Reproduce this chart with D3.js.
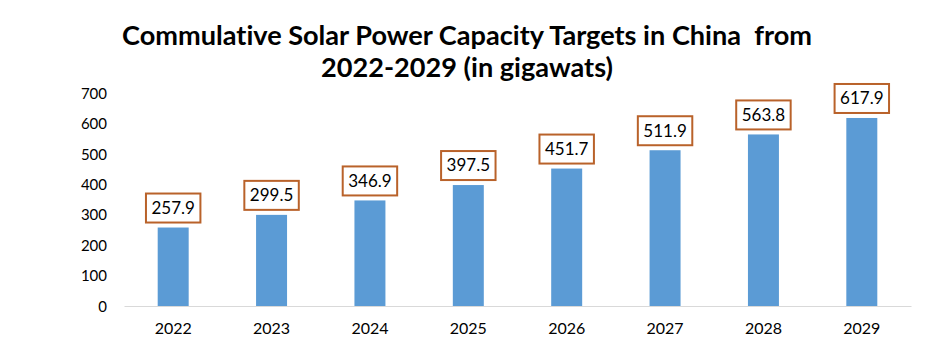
<!DOCTYPE html>
<html>
<head>
<meta charset="utf-8">
<script src="https://cdn.jsdelivr.net/npm/d3@7"></script>
<style>
  html, body { margin: 0; padding: 0; background: #fff; }
  svg { display: block; }
  text { font-variant-ligatures: none; font-feature-settings: "liga" 0; }
</style>
</head>
<body>
<svg id="chart" width="934" height="356"></svg>
<script>
const years = ["2022", "2023", "2024", "2025", "2026", "2027", "2028", "2029"];
const capacity = [257.9, 299.5, 346.9, 397.5, 451.7, 511.9, 563.8, 617.9];
const yTicks = [0, 100, 200, 300, 400, 500, 600, 700];
const titleLines = ["Commulative Solar Power Capacity Targets in China  from", "2022-2029 (in gigawats)"];

const svg = d3.select("#chart");
const W = 934, H = 356;
svg.append("rect").attr("width", W).attr("height", H).attr("fill", "#fff");

const x = d3.scaleBand().domain(years).range([124, 911]).paddingInner(0.685).paddingOuter(0.3425);
const y = d3.scaleLinear().domain([0, 700]).range([306, 93]);

// title
const title = svg.append("text")
  .attr("x", 467).attr("text-anchor", "middle")
  .style("font-family", "Lato, 'Open Sans', sans-serif")
  .style("font-weight", "bold").style("font-size", "26px")
  .style("white-space", "pre").attr("fill", "#000");
title.selectAll("tspan").data(titleLines).join("tspan")
  .attr("x", 467).attr("y", (d, i) => 45 + i * 32).text(d => d);
// fit first line to reference width
const t0 = title.select("tspan").node();
const w0 = t0.getComputedTextLength();
if (w0 > 0) title.style("font-size", (26 * 690 / w0).toFixed(2) + "px");

// y axis (labels only)
const yAxis = svg.append("g").attr("transform", "translate(107,0)")
  .call(d3.axisLeft(y).tickValues(yTicks).tickSize(0).tickPadding(0));
yAxis.select(".domain").remove();
yAxis.selectAll("text")
  .style("font-family", "Lato, 'Open Sans', sans-serif").style("font-size", "15px")
  .attr("fill", "#000").attr("dy", "0.35em");

// bars
svg.append("g").selectAll("rect").data(years).join("rect")
  .attr("x", d => x(d)).attr("width", x.bandwidth())
  .attr("y", (d, i) => y(capacity[i]))
  .attr("height", (d, i) => y(0) - y(capacity[i]))
  .attr("fill", "#5B9BD5");

// x axis
const xAxis = svg.append("g").attr("transform", `translate(0,${y(0)})`)
  .call(d3.axisBottom(x).tickSize(0).tickPadding(17));
xAxis.select(".domain").attr("stroke", "#D9D9D9").attr("stroke-width", 1);
xAxis.selectAll("text")
  .style("font-family", "Lato, 'Open Sans', sans-serif").style("font-size", "16px")
  .attr("fill", "#000");

// data labels with boxes
const lab = svg.append("g").selectAll("g").data(years).join("g");
lab.each(function (d, i) {
  const g = d3.select(this);
  const cx = x(d) + x.bandwidth() / 2;
  const bottom = y(capacity[i]) - 5;
  const hgt = 29;
  const txt = g.append("text")
    .attr("x", cx).attr("y", bottom - hgt / 2).attr("dy", "0.35em")
    .attr("text-anchor", "middle")
    .style("font-family", "Lato, 'Open Sans', sans-serif").style("font-size", "17px")
    .attr("fill", "#000").text(capacity[i].toFixed(1));
  const tw = txt.node().getComputedTextLength();
  const bw = tw + 11;
  g.insert("rect", "text")
    .attr("x", cx - bw / 2).attr("y", bottom - hgt)
    .attr("width", bw).attr("height", hgt)
    .attr("fill", "#fff").attr("stroke", "#B9622A").attr("stroke-width", 2);
});
</script>
</body>
</html>
